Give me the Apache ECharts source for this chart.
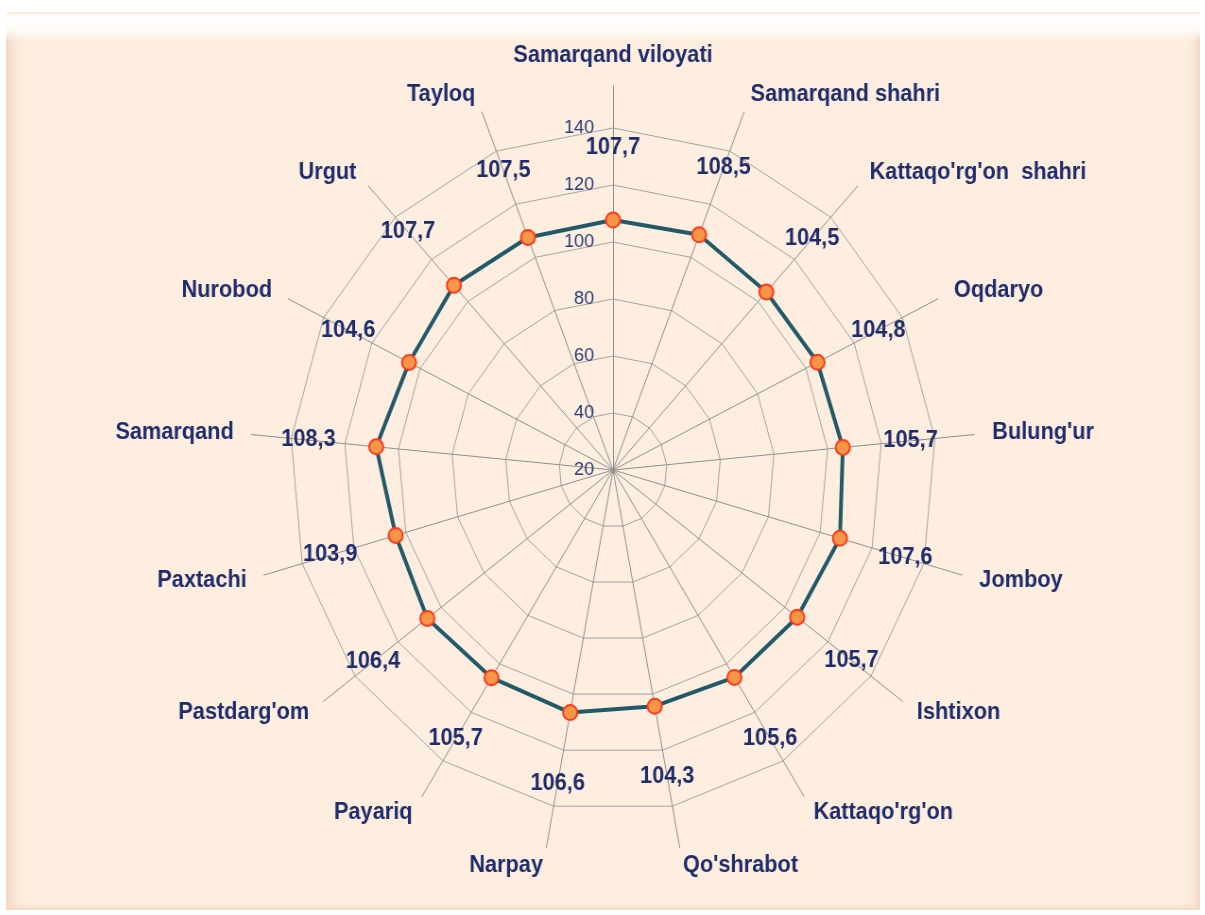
<!DOCTYPE html>
<html><head><meta charset="utf-8">
<script src="https://cdn.jsdelivr.net/npm/echarts@6/dist/echarts.min.js"></script>
<style>
html,body{margin:0;padding:0;background:#ffffff;width:1205px;height:915px;overflow:hidden;}
#frame{position:absolute;left:6px;top:12px;width:1194px;height:898px;
  background:
    linear-gradient(to bottom, rgba(255,255,255,0) 0px, rgba(255,255,255,0) 890px, rgba(240,215,195,0.7) 898px),
    linear-gradient(to bottom, rgba(250,232,212,1) 0px, rgba(255,255,255,1) 4px, rgba(255,253,248,0.95) 18px, rgba(255,255,255,0) 30px),
    linear-gradient(to right, rgba(240,216,196,1) 0px, rgba(250,230,212,0.7) 10px, rgba(253,238,223,0) 22px),
    linear-gradient(to left, rgba(240,216,196,1) 0px, rgba(250,230,212,0.7) 7px, rgba(253,238,223,0) 15px),
    #fdeedf;}
#chart{position:absolute;left:0;top:0;width:1205px;height:915px;transform:scaleX(0.945);transform-origin:613px 470px;}
</style></head>
<body><div id="frame"></div><div id="chart"></div>
<script>
const categories = ["Samarqand viloyati","Samarqand shahri","Kattaqo'rg'on  shahri","Oqdaryo","Bulung'ur","Jomboy","Ishtixon","Kattaqo'rg'on","Qo'shrabot","Narpay","Payariq","Pastdarg'om","Paxtachi","Samarqand","Nurobod","Urgut","Tayloq"];
const values = [107.7,108.5,104.5,104.8,105.7,107.6,105.7,105.6,104.3,106.6,105.7,106.4,103.9,108.3,104.6,107.7,107.5];
const axisMin = 20;
const axisMax = 140;
const axisStep = 20;

const FONT = '"Liberation Sans", Arial, sans-serif';
const NAVY = '#1f2c6c';
const CX = 613, CY = 470, R = 342, R_AXIS = 384, LABEL_DIST = 72;
const n = categories.length;

// ECharts radar lays indicators out counter-clockwise; the reference runs clockwise.
const order = [0].concat(categories.map(function(_, i){ return i; }).slice(1).reverse());
const radarCats = order.map(function(i){ return categories[i]; });
const radarVals = order.map(function(i){ return values[i]; });

const chart = echarts.init(document.getElementById('chart'), null, {renderer:'canvas'});

const labelData = values.map(function(v, i){
  const a = i * 2 * Math.PI / n;
  return {
    value: [v, i],
    label: { offset: [LABEL_DIST * Math.sin(a), -LABEL_DIST * Math.cos(a)] }
  };
});

chart.setOption({
  animation: false,
  backgroundColor: 'transparent',
  radar: [
    {
      center: [CX, CY], radius: R, startAngle: 90, shape: 'polygon',
      splitNumber: (axisMax - axisMin) / axisStep,
      indicator: radarCats.map(function(c){ return {name: c, min: axisMin, max: axisMax}; }),
      axisName: {show: false},
      axisLine: {show: false},
      axisTick: {show: false},
      axisLabel: {show: false},
      splitArea: {show: false},
      splitLine: {show: true, lineStyle: {color: '#a3a3a3', width: 1}}
    },
    {
      center: [CX, CY], radius: R_AXIS, startAngle: 90, shape: 'polygon',
      indicator: radarCats.map(function(c){ return {name: c, min: 0, max: 1}; }),
      nameGap: 19,
      axisName: {show: true, color: NAVY, fontSize: 23, fontWeight: 'bold', fontFamily: FONT},
      axisLine: {show: true, lineStyle: {color: '#8e8e8e', width: 1}},
      axisTick: {show: false},
      axisLabel: {show: false},
      splitArea: {show: false},
      splitLine: {show: false}
    }
  ],
  polar: {center: [CX, CY], radius: R},
  angleAxis: {type: 'value', min: 0, max: n, startAngle: 90, clockwise: true, show: false},
  radiusAxis: {
    type: 'value', min: axisMin, max: axisMax, interval: axisStep,
    axisLine: {show: false}, axisTick: {show: false}, splitLine: {show: false},
    axisLabel: {show: true, margin: 20, fontSize: 19, color: '#283b7c', fontFamily: FONT,
      verticalAlign: 'middle', padding: [4, 0, 0, 0]}
  },
  series: [
    {
      type: 'radar', radarIndex: 0, z: 3,
      symbol: 'circle', symbolSize: 15,
      lineStyle: {color: '#215968', width: 4},
      itemStyle: {color: '#f79646', borderColor: '#ff3a1f', borderWidth: 2},
      label: {show: false},
      data: [{value: radarVals}]
    },
    {
      type: 'scatter', coordinateSystem: 'polar', z: 5,
      symbol: 'circle', symbolSize: 1,
      itemStyle: {color: 'rgba(0,0,0,0)'},
      emphasis: {disabled: true},
      label: {
        show: true, position: 'inside', color: NAVY, opacity: 1, textBorderWidth: 0,
        fontSize: 23, fontWeight: 'bold', fontFamily: FONT,
        formatter: function(p){ return String(p.value[0]).replace('.', ','); }
      },
      data: labelData
    }
  ]
});
</script>
</body></html>
